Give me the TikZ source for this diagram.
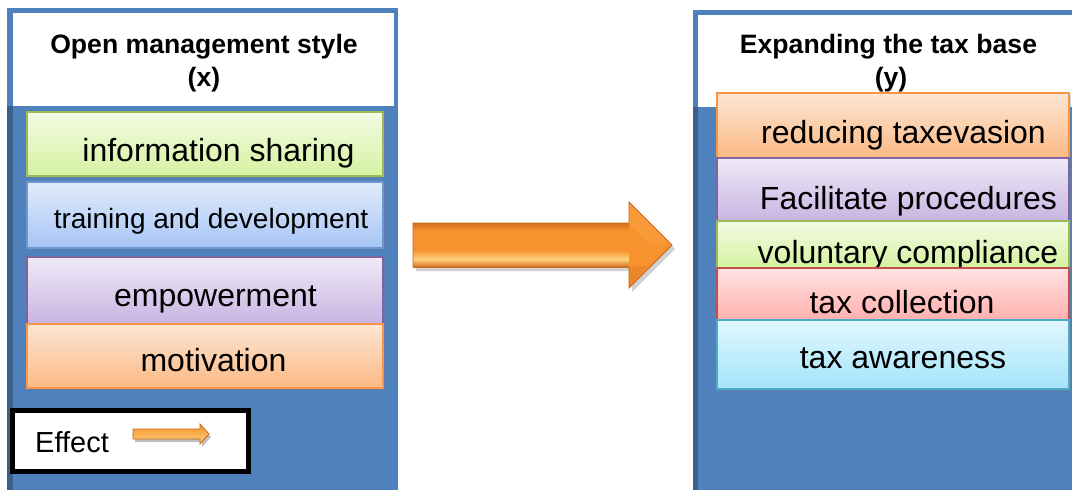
\documentclass[tikz,border=0pt]{standalone}
\usepackage{fontspec}
\setmainfont{Liberation Sans}
\usetikzlibrary{shadows}

% panel and box colours
\definecolor{panelblue}{HTML}{4F81BD}
\definecolor{stripblue}{HTML}{3B608E}
\definecolor{greenTop}{HTML}{F3FBE4}
\definecolor{greenBot}{HTML}{D5F2A0}
\definecolor{greenLine}{HTML}{9BBB59}
\definecolor{blueTop}{HTML}{E1EBFB}
\definecolor{blueBot}{HTML}{A6C5F6}
\definecolor{blueLine}{HTML}{6E96CF}
\definecolor{purpTop}{HTML}{F0EAF7}
\definecolor{purpBot}{HTML}{C8B4E2}
\definecolor{purpLine}{HTML}{8064A2}
\definecolor{orngTop}{HTML}{FDE6D2}
\definecolor{orngBot}{HTML}{FBB985}
\definecolor{orngLine}{HTML}{F79646}
\definecolor{pinkTop}{HTML}{FFE2E2}
\definecolor{pinkBot}{HTML}{FFB0AD}
\definecolor{pinkLine}{HTML}{C0504D}
\definecolor{cyanTop}{HTML}{E3F8FF}
\definecolor{cyanBot}{HTML}{A3E3F9}
\definecolor{cyanLine}{HTML}{4BACC6}
\definecolor{arrowMid}{HTML}{F7922E}
\definecolor{arrowDark}{HTML}{C4661C}
\definecolor{arrowLight}{HTML}{FDD07A}

\begin{document}
\begin{tikzpicture}[x=1pt,y=-1pt,
  box/.style={anchor=north west,inner sep=0pt,outer sep=0pt,line width=1.3pt,
    drop shadow={shadow xshift=1.5pt,shadow yshift=-2pt,opacity=0.35}},
  greenbox/.style={box,draw=greenLine,top color=greenTop,bottom color=greenBot},
  bluebox/.style={box,draw=blueLine,top color=blueTop,bottom color=blueBot},
  purplebox/.style={box,draw=purpLine,top color=purpTop,bottom color=purpBot},
  orangebox/.style={box,draw=orngLine,top color=orngTop,bottom color=orngBot},
  pinkbox/.style={box,draw=pinkLine,top color=pinkTop,bottom color=pinkBot},
  cyanbox/.style={box,draw=cyanLine,top color=cyanTop,bottom color=cyanBot},
  itemtext/.style={anchor=base,inner sep=0pt,font=\fontsize{32}{38}\selectfont},
  headtext/.style={anchor=base,inner sep=0pt,font=\fontsize{26.6}{33}\selectfont\bfseries},
  headbox/.style={anchor=north west,inner sep=0pt,outer sep=0pt,fill=white},
]
\useasboundingbox (0,0) rectangle (1072,490);

% ---------- left panel: open management style ----------
\fill[panelblue] (7,8) rectangle (398,490);
\fill[stripblue] (7,106) rectangle (13,490);
\node[headbox,minimum width=381pt,minimum height=93pt] (lefthead) at (13,13) {};
\node[headtext] (leftheadA) at (204,53) {Open management style};
\node[headtext] (leftheadB) at (204,86) {(x)};

\node[greenbox,minimum width=356pt,minimum height=64pt] (info) at (27,112) {};
\node[itemtext] (infot) at (218.5,161) {information sharing};

\node[bluebox,minimum width=356pt,minimum height=66pt] (train) at (27,182) {};
\node[itemtext,font=\fontsize{28}{34}\selectfont] (traint) at (211,228) {training and development};

\node[purplebox,minimum width=356pt,minimum height=67pt] (empower) at (27,257) {};
\node[itemtext] (empowert) at (215.5,306) {empowerment};

\node[orangebox,minimum width=356pt,minimum height=64pt] (motiv) at (27,324) {};
\node[itemtext] (motivt) at (213.5,371) {motivation};

% legend box
\node[anchor=north west,inner sep=0pt,outer sep=0pt,draw=black,line width=5pt,fill=white,
  minimum width=236pt,minimum height=61pt] (legend) at (12.5,410.5) {};
\node[anchor=base west,inner sep=0pt,font=\fontsize{29}{34}\selectfont] (legendt) at (35,452) {Effect};
\fill[black,opacity=0.25] (135,432) -- (202,432) -- (202,427) -- (211,437) -- (202,447) -- (202,442) -- (135,442) -- cycle;
\shade[top color=arrowMid,bottom color=arrowLight]
  (133,429) -- (200,429) -- (200,424) -- (209,434) -- (200,444) -- (200,439) -- (133,439) -- cycle;
\draw[arrowDark,line width=0.8pt,line join=miter]
  (133,429) -- (200,429) -- (200,424) -- (209,434) -- (200,444) -- (200,439) -- (133,439) -- cycle;

% ---------- block arrow between the panels ----------
\fill[black,opacity=0.18] (416,227) -- (632,227) -- (632,206) -- (675,249) -- (632,292) -- (632,271) -- (416,271) -- cycle;
\fill[arrowMid] (413,223) -- (629,223) -- (629,202) -- (672,245) -- (629,288) -- (629,267) -- (413,267) -- cycle;
\shade[top color=arrowDark!75!arrowMid,bottom color=arrowMid] (413,223) rectangle (629,231);
\shade[top color=arrowMid,bottom color=arrowLight] (413,250) rectangle (629,259);
\shade[top color=arrowLight,bottom color=arrowDark!70!arrowMid] (413,259) rectangle (629,267);
\fill[arrowDark!25!arrowMid] (629,267) -- (629,288) -- (648,266) -- cycle;
\fill[arrowMid!88!arrowLight] (629,202) -- (672,245) -- (650,245) -- (629,224) -- cycle;
\draw[arrowDark,line width=0.9pt,line join=miter]
  (413,223) -- (629,223) -- (629,202) -- (672,245) -- (629,288) -- (629,267) -- (413,267) -- cycle;

% ---------- right panel: expanding the tax base ----------
\fill[panelblue] (693,10) rectangle (1072,490);
\fill[stripblue] (693,107) rectangle (698,490);
\node[headbox,minimum width=374pt,minimum height=92pt] (righthead) at (698,15) {};
\node[headtext] (rightheadA) at (888.5,53) {Expanding the tax base};
\node[headtext] (rightheadB) at (891,86) {(y)};

\node[orangebox,minimum width=352pt,minimum height=65pt] (evasion) at (717,93) {};
\node[itemtext] (evasiont) at (903.5,143) {reducing taxevasion};

\node[purplebox,minimum width=352pt,minimum height=63pt] (proc) at (717,158) {};
\node[itemtext] (proct) at (908.5,209) {Facilitate procedures};

\node[greenbox,minimum width=352pt,minimum height=47pt] (volun) at (717,221) {};
\node[itemtext] (volunt) at (908,263) {voluntary compliance};

\node[pinkbox,minimum width=352pt,minimum height=52pt] (collect) at (717,268) {};
\node[itemtext] (collectt) at (902,313) {tax collection};

\node[cyanbox,minimum width=352pt,minimum height=69pt] (aware) at (717,320) {};
\node[itemtext] (awaret) at (903,368) {tax awareness};
\end{tikzpicture}
\end{document}
